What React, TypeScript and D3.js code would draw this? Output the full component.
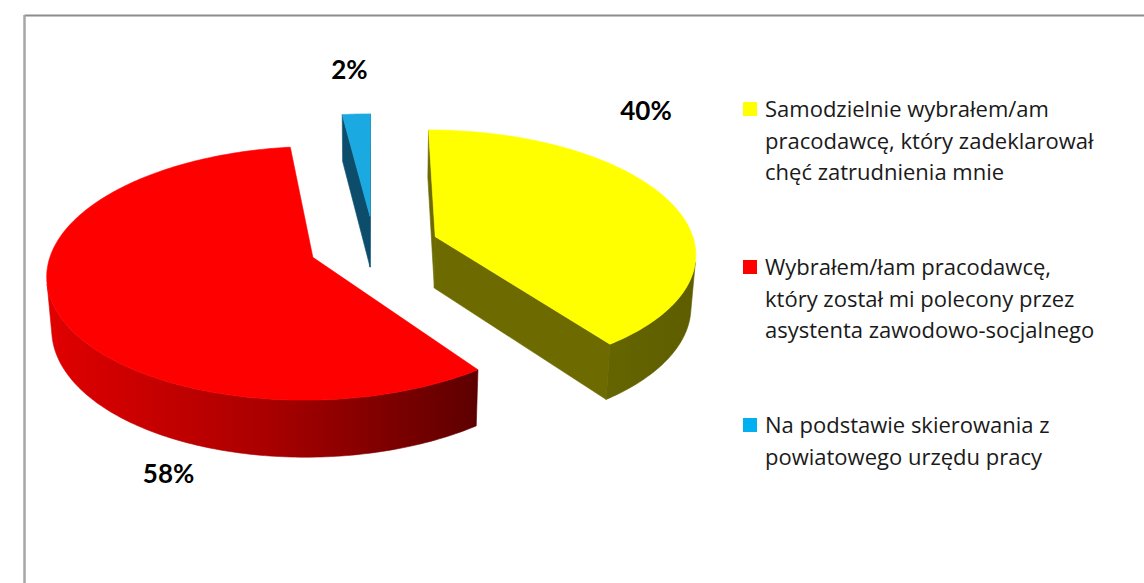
import * as d3 from 'd3';

// --- Data ---
const categories = [
  ['Samodzielnie wybrałem/am', 'pracodawcę, który zadeklarował', 'chęć zatrudnienia mnie'],
  ['Wybrałem/łam pracodawcę,', 'który został mi polecony przez', 'asystenta zawodowo-socjalnego'],
  ['Na podstawie skierowania z', 'powiatowego urzędu pracy'],
];
const values = [40, 58, 2];
const valueLabels = ['40%', '58%', '2%'];

// --- Styles ---
const topColors = ['#ffff00', '#ff0000', '#1ba9e1'];
const cutColors = ['#6d6b00', '#8a0000', '#0c4d6c'];
const wallStops = [
  ['#717100', '#686800', '#5e5e00'],
  ['#e00000', '#aa0000', '#5e0000'],
  ['#0c4d6c', '#0a4360', '#083650'],
];
const legendColors = ['#ffff00', '#ff0000', '#00b0f0'];
const labelOffsets: [number, number][] = [[-23, -81], [115, 177], [-7, -35]];

const W = 1144;
const H = 583;

// 3D projection of the tilted pie
const CX = 374;
const CY = 246;
const ALPHA = (28 * Math.PI) / 180;
const DIST = 7.14;
const FOCAL = 260 * DIST;
const DEPTH = 0.229;
const EXPLODE = 0.25;
const cam = [0, DIST * Math.sin(ALPHA), DIST * Math.cos(ALPHA)];

const project = (X: number, Y: number, Z: number): [number, number] => {
  const v = Y * Math.cos(ALPHA) - Z * Math.sin(ALPHA);
  const w = Y * Math.sin(ALPHA) + Z * Math.cos(ALPHA);
  const s = FOCAL / (DIST - w);
  return [CX + X * s, CY - v * s];
};
const depthOf = (X: number, Y: number, Z: number) => Y * Math.sin(ALPHA) + Z * Math.cos(ALPHA);

const line = d3.line().curve(d3.curveLinearClosed);

const pie = d3.pie<number>().sort(null).value((d) => d);
const arcs = pie(values);

const slices = arcs.map((a, i) => {
  const mid = (a.startAngle + a.endAngle) / 2;
  const ox = EXPLODE * Math.sin(mid);
  const oz = -EXPLODE * Math.cos(mid);
  const rim = (t: number, y: number) => project(ox + Math.sin(t), y, oz - Math.cos(t));
  const steps = Math.max(2, Math.ceil((a.endAngle - a.startAngle) / (Math.PI / 180)));
  const thetas = d3.range(steps + 1).map((k) => a.startAngle + ((a.endAngle - a.startAngle) * k) / steps);

  const top = line([project(ox, 0, oz), ...thetas.map((t) => rim(t, 0))]) as string;

  // outer wall: keep only the parts facing the camera
  const runs: number[][] = [];
  let cur: number[] = [];
  thetas.forEach((t) => {
    const px = ox + Math.sin(t), pz = oz - Math.cos(t);
    const dot = Math.sin(t) * (cam[0] - px) - Math.cos(t) * (cam[2] - pz);
    if (dot > 0) cur.push(t);
    else if (cur.length) { runs.push(cur); cur = []; }
  });
  if (cur.length) runs.push(cur);
  const walls = runs.filter((r) => r.length > 1).map((r) =>
    line([...r.map((t) => rim(t, 0)), ...r.slice().reverse().map((t) => rim(t, -DEPTH))]) as string
  );

  // radial cut faces
  const cuts: string[] = [];
  [[a.startAngle, a.startAngle - Math.PI / 2], [a.endAngle, a.endAngle + Math.PI / 2]].forEach(([t, n]) => {
    const dot = Math.sin(n) * (cam[0] - ox) - Math.cos(n) * (cam[2] - oz);
    if (dot > 0) {
      cuts.push(line([project(ox, 0, oz), rim(t, 0), rim(t, -DEPTH), project(ox, -DEPTH, oz)]) as string);
    }
  });

  const xs = thetas.map((t) => rim(t, -DEPTH)[0]);
  const [lx, ly] = rim(mid, 0);
  return {
    i, top, walls, cuts,
    wallX: d3.extent(xs) as [number, number],
    depth: depthOf(ox, 0, oz),
    label: [lx + labelOffsets[i][0], ly + labelOffsets[i][1]],
  };
});

const drawOrder = slices.slice().sort((p, q) => p.depth - q.depth);

export default function App() {
  const font = '"Open Sans", Lato, sans-serif';
  return (
    <svg width={W} height={H} style={{ position: 'absolute', left: 0, top: 0, background: '#fff' }}>
      <defs>
        {slices.map((s) => (
          <linearGradient key={s.i} id={`wall${s.i}`} gradientUnits="userSpaceOnUse"
            x1={s.wallX[0]} x2={s.wallX[1]} y1={0} y2={0}>
            <stop offset="0" stopColor={wallStops[s.i][0]} />
            <stop offset="0.5" stopColor={wallStops[s.i][1]} />
            <stop offset="1" stopColor={wallStops[s.i][2]} />
          </linearGradient>
        ))}
      </defs>
      <rect width={W} height={H} fill="#fff" />

      {/* chart frame */}
      <line x1={24.5} x2={W} y1={15.5} y2={15.5} stroke="#8c8c8c" strokeWidth={2} />
      <line x1={24.5} x2={24.5} y1={15} y2={H} stroke="#a6a6a6" strokeWidth={2.5} />

      {drawOrder.map((s) => (
        <g key={s.i}>
          {s.cuts.map((d, k) => (
            <path key={`c${k}`} d={d} fill={cutColors[s.i]} stroke={cutColors[s.i]} strokeWidth={0.6} />
          ))}
          {s.walls.map((d, k) => (
            <path key={`w${k}`} d={d} fill={`url(#wall${s.i})`} stroke={`url(#wall${s.i})`} strokeWidth={0.6} />
          ))}
          <path d={s.top} fill={topColors[s.i]} stroke={topColors[s.i]} strokeWidth={0.6} />
        </g>
      ))}

      {slices.map((s) => (
        <text key={s.i} x={s.label[0]} y={s.label[1]} textAnchor="middle" fontFamily="Lato, sans-serif"
          fontWeight="bold" fontSize={26} fill="#000">
          {valueLabels[s.i]}
        </text>
      ))}

      {/* legend */}
      {categories.map((lines, i) => (
        <g key={i} transform={`translate(743, ${102 + i * 158})`}>
          <rect width={14} height={14} fill={legendColors[i]} />
          <text x={22} y={15} fontFamily={font} fontSize={22} fill="#1a1a1a">
            {lines.map((t, k) => (
              <tspan key={k} x={22} dy={k === 0 ? 0 : 31.7}>{t}</tspan>
            ))}
          </text>
        </g>
      ))}
    </svg>
  );
}
